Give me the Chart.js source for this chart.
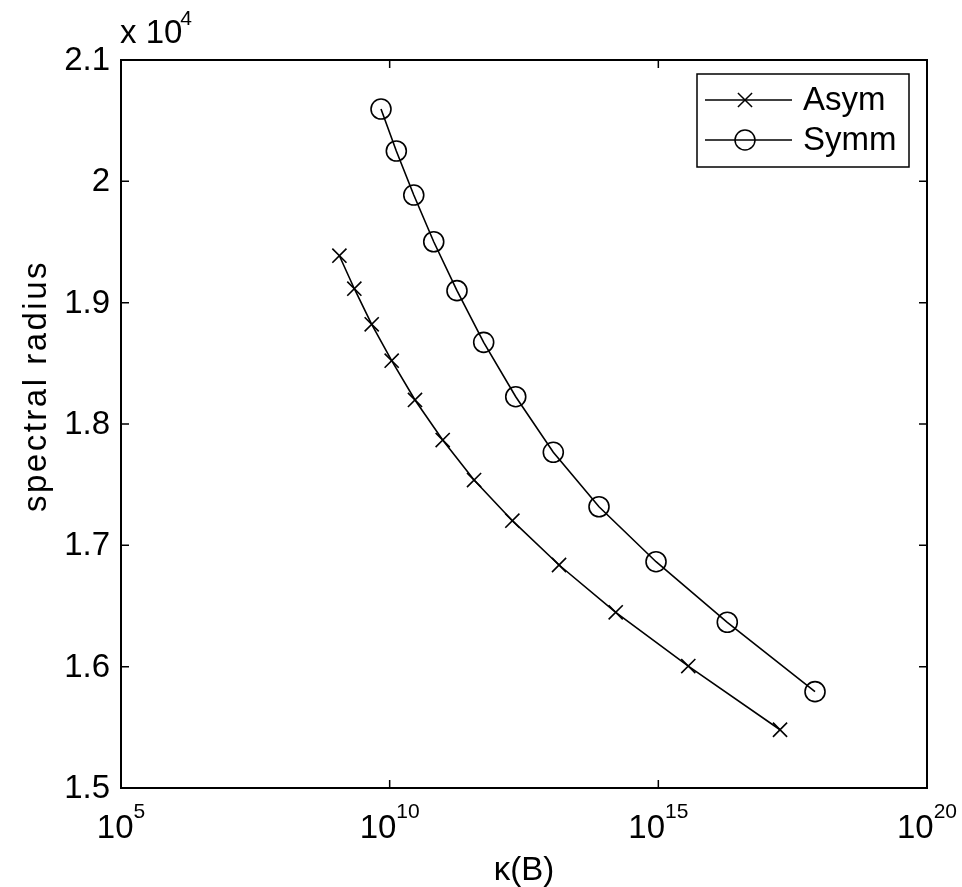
<!DOCTYPE html>
<html>
<head>
<meta charset="utf-8">
<script src="https://cdn.jsdelivr.net/npm/chart.js@4/dist/chart.umd.min.js"></script>
<style>
  html, body { margin: 0; padding: 0; background: #fff; }
  #wrap { width: 962px; height: 887px; }
</style>
</head>
<body>
<div id="wrap"><canvas id="myChart" width="962" height="887"></canvas></div>
<script>
// values
const asymKappa = [1.16e9, 2.2e9, 4.63e9, 1.09e10, 2.96e10, 9.7e10, 3.72e11, 1.92e12, 1.42e13, 1.61e14, 3.61e15, 1.84e17];
const asymRadius = [19387, 19115, 18822, 18522, 18198, 17868, 17538, 17203, 16838, 16448, 16005, 15480];
const symmKappa = [6.9e9, 1.33e10, 2.81e10, 6.61e10, 1.79e11, 5.62e11, 2.22e12, 1.11e13, 7.87e13, 9.06e14, 1.92e16, 8.24e17];
const symmRadius = [20596, 20250, 19887, 19502, 19099, 18673, 18225, 17767, 17318, 16865, 16366, 15794];

const seriesNames = ["Asym", "Symm"];
const xTickValues = [1e5, 1e10, 1e15, 1e20];
const yTickValues = [15000, 16000, 17000, 18000, 19000, 20000, 21000];
const xTitle = "\u03BA(B)";
const yTitle = "spectral radius";

const FONT = '"Liberation Sans", Arial, Helvetica, sans-serif';

function toPoints(xs, ys) {
  let pts = [];
  for (let i = 0; i < xs.length; i++) {
    pts.push({ x: xs[i], y: ys[i] });
  }
  return pts;
}

// box, inner ticks, labels and legend drawn the matlab way
const matlabAxes = {
  id: "matlabAxes",
  afterDraw(chart) {
    const ctx = chart.ctx;
    const xs = chart.scales.x;
    const ys = chart.scales.y;
    const a = chart.chartArea;
    ctx.save();
    ctx.strokeStyle = "#000";
    ctx.fillStyle = "#000";
    ctx.lineWidth = 2;
    ctx.strokeRect(a.left, a.top, a.right - a.left, a.bottom - a.top);

    // ticks
    ctx.lineWidth = 1.5;
    const tl = 8;
    ctx.beginPath();
    for (const v of yTickValues) {
      const y = ys.getPixelForValue(v);
      ctx.moveTo(a.left, y); ctx.lineTo(a.left + tl, y);
      ctx.moveTo(a.right, y); ctx.lineTo(a.right - tl, y);
    }
    for (const v of xTickValues) {
      const x = xs.getPixelForValue(v);
      ctx.moveTo(x, a.bottom); ctx.lineTo(x, a.bottom - tl);
      ctx.moveTo(x, a.top); ctx.lineTo(x, a.top + tl);
    }
    ctx.stroke();

    // y tick labels
    ctx.font = "33px " + FONT;
    ctx.textAlign = "right";
    ctx.textBaseline = "middle";
    for (const v of yTickValues) {
      ctx.fillText(String(v / 1e4), a.left - 11, ys.getPixelForValue(v) + 1);
    }

    // x tick labels: 10 with a superscript exponent
    ctx.textBaseline = "alphabetic";
    ctx.textAlign = "left";
    for (const v of xTickValues) {
      const x = xs.getPixelForValue(v);
      const ex = String(Math.round(Math.log10(v)));
      ctx.font = "33px " + FONT;
      const wb = ctx.measureText("10").width;
      ctx.font = "21px " + FONT;
      const we = ctx.measureText(ex).width;
      const x0 = x - (wb + we) / 2;
      ctx.font = "33px " + FONT;
      ctx.fillText("10", x0, a.bottom + 50);
      ctx.font = "21px " + FONT;
      ctx.fillText(ex, x0 + wb, a.bottom + 30);
    }

    // multiplier above the y axis
    ctx.font = "33px " + FONT;
    ctx.fillText("x 10", a.left - 1, 43);
    const wm = ctx.measureText("x 10").width;
    ctx.font = "21px " + FONT;
    ctx.fillText("4", a.left - 3 + wm, 25);

    // axis titles
    ctx.font = "33px " + FONT;
    ctx.textAlign = "center";
    ctx.fillText(xTitle, (a.left + a.right) / 2, 880);
    ctx.save();
    ctx.translate(37, 386);
    ctx.rotate(-Math.PI / 2);
    ctx.textBaseline = "middle";
    ctx.letterSpacing = "2.5px";
    ctx.fillText(yTitle, 0, 0);
    ctx.restore();

    // legend
    const lx = 697, ly = 74, lw = 212, lh = 93;
    ctx.fillStyle = "#fff";
    ctx.fillRect(lx, ly, lw, lh);
    ctx.lineWidth = 1.5;
    ctx.strokeRect(lx, ly, lw, lh);
    chart.data.datasets.forEach((ds, i) => {
      const ry = ly + 26 + i * 40;
      ctx.strokeStyle = "#000";
      ctx.lineWidth = 1.5;
      ctx.beginPath();
      ctx.moveTo(lx + 8, ry);
      ctx.lineTo(lx + 95, ry);
      ctx.stroke();
      ctx.fillStyle = "rgba(0,0,0,0)";
      Chart.helpers.drawPoint(ctx, {
        pointStyle: ds.pointStyle,
        radius: ds.pointRadius,
        borderWidth: ds.pointBorderWidth,
        rotation: 0,
      }, lx + 48, ry);
      ctx.fillStyle = "#000";
      ctx.font = "33px " + FONT;
      ctx.textAlign = "left";
      ctx.textBaseline = "middle";
      ctx.fillText(ds.label, lx + 106, ry + 1);
    });
    ctx.restore();
  },
};

const myChart = new Chart("myChart", {
  type: "line",
  data: {
    datasets: [
      {
        label: seriesNames[0],
        data: toPoints(asymKappa, asymRadius),
        borderColor: "#000",
        borderWidth: 1.6,
        pointStyle: "crossRot",
        pointRadius: 10,
        pointBorderWidth: 1.6,
        pointBorderColor: "#000",
        pointBackgroundColor: "rgba(0,0,0,0)",
        fill: false,
        tension: 0,
      },
      {
        label: seriesNames[1],
        data: toPoints(symmKappa, symmRadius),
        borderColor: "#000",
        borderWidth: 1.6,
        pointStyle: "circle",
        pointRadius: 10,
        pointBorderWidth: 1.6,
        pointBorderColor: "#000",
        pointBackgroundColor: "rgba(0,0,0,0)",
        fill: false,
        tension: 0,
      },
    ],
  },
  options: {
    responsive: false,
    animation: false,
    layout: { padding: { left: 121, right: 35, top: 60, bottom: 99 } },
    plugins: {
      legend: { display: false },
      tooltip: { enabled: false },
    },
    scales: {
      x: {
        type: "logarithmic",
        display: false,
        min: 1e5,
        max: 1e20,
        afterBuildTicks: (scale) => {
          scale.ticks = xTickValues.map((v) => ({ value: v }));
        },
      },
      y: {
        type: "linear",
        display: false,
        min: 15000,
        max: 21000,
      },
    },
  },
  plugins: [matlabAxes],
});
</script>
</body>
</html>
